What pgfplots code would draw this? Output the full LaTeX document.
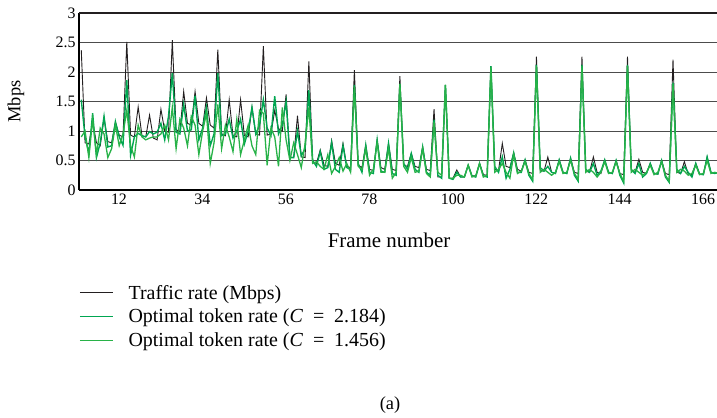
\documentclass[border=0pt]{standalone}
\usepackage{fontspec}
\setmainfont{Liberation Serif}
\usepackage{pgfplots}
\usepackage{pgfplotstable}
\pgfplotsset{compat=1.18}

\definecolor{traffic}{RGB}{35,31,32}
\definecolor{greenA}{RGB}{0,166,81}
\definecolor{greenB}{RGB}{40,178,72}

% frame, traffic rate, token rate C=2.184, token rate C=1.456
\pgfplotstableread{
f T A B
1 2.37 1.53 0.90
2 0.80 0.90 1.00
3 0.78 0.62 0.55
4 1.15 1.30 1.20
5 0.80 0.55 0.60
6 0.75 0.80 1.05
7 1.22 1.25 0.95
8 0.82 0.73 0.55
9 0.80 0.75 0.70
10 1.15 1.16 1.10
11 0.93 0.90 0.75
12 0.90 0.76 0.95
13 2.51 1.86 1.35
14 0.93 0.59 0.75
15 0.90 0.90 0.56
16 1.41 0.96 1.10
17 0.92 0.92 0.90
18 0.90 0.90 0.85
19 1.27 0.99 0.88
20 0.88 0.95 0.90
21 0.85 0.98 0.90
22 1.37 1.13 0.95
23 1.00 0.85 1.10
24 0.98 1.25 0.85
25 2.54 1.98 1.40
26 1.02 0.98 0.70
27 0.99 0.95 1.20
28 1.67 1.45 1.05
29 1.13 1.00 0.75
30 1.10 1.02 1.25
31 1.67 1.60 1.10
32 1.13 0.85 0.60
33 1.08 1.05 1.00
34 1.56 1.40 1.30
35 1.10 0.75 0.45
36 1.05 0.95 0.80
37 2.38 1.98 1.45
38 0.95 0.92 0.70
39 0.92 0.95 1.10
40 1.53 1.20 0.90
41 0.92 0.88 0.65
42 0.90 1.00 1.20
43 1.53 1.20 0.60
44 0.92 0.78 0.85
45 0.90 1.00 1.10
46 1.40 1.40 0.75
47 0.95 0.95 0.60
48 0.93 1.10 1.35
49 2.44 1.53 1.30
50 0.93 1.05 0.42
51 0.95 0.92 1.05
52 1.35 1.59 0.90
53 1.04 0.95 0.40
54 1.00 1.10 1.40
55 1.62 1.50 0.85
56 0.56 0.55 0.50
57 0.55 0.55 0.80
58 1.26 1.00 0.60
59 0.56 0.58 0.38
60 0.55 0.70 0.78
61 2.18 1.69 1.40
62 0.48 0.50 0.45
63 0.45 0.40 0.48
64 0.68 0.65 0.40
65 0.42 0.35 0.35
66 0.40 0.38 0.60
67 0.84 0.80 0.28
68 0.45 0.35 0.40
69 0.42 0.30 0.55
70 0.79 0.75 0.32
71 0.40 0.38 0.45
72 0.38 0.35 0.30
73 2.03 1.78 1.75
74 0.42 0.45 0.40
75 0.38 0.30 0.35
76 0.76 0.76 0.70
77 0.35 0.30 0.25
78 0.33 0.28 0.35
79 0.85 0.85 0.80
80 0.38 0.32 0.30
81 0.35 0.30 0.30
82 0.79 0.79 0.70
83 0.35 0.28 0.20
84 0.33 0.25 0.30
85 1.93 1.80 1.80
86 0.42 0.45 0.40
87 0.40 0.35 0.30
88 0.62 0.62 0.55
89 0.40 0.35 0.30
90 0.38 0.30 0.32
91 0.73 0.73 0.70
92 0.35 0.30 0.28
93 0.33 0.25 0.22
94 1.37 1.19 1.15
95 0.22 0.25 0.30
96 0.22 0.20 0.25
97 1.78 1.78 1.78
98 0.20 0.20 0.20
99 0.20 0.18 0.20
100 0.34 0.30 0.25
101 0.22 0.22 0.25
102 0.22 0.22 0.22
103 0.42 0.42 0.42
104 0.24 0.24 0.22
105 0.24 0.22 0.24
106 0.45 0.45 0.45
107 0.26 0.24 0.22
108 0.25 0.22 0.25
109 2.10 2.10 2.08
110 0.35 0.40 0.30
111 0.33 0.30 0.35
112 0.79 0.56 0.45
113 0.40 0.20 0.30
114 0.38 0.35 0.20
115 0.63 0.63 0.60
116 0.35 0.30 0.28
117 0.32 0.30 0.32
118 0.51 0.51 0.48
119 0.30 0.25 0.28
120 0.28 0.15 0.18
121 2.26 2.12 2.10
122 0.33 0.38 0.30
123 0.32 0.32 0.35
124 0.56 0.40 0.30
125 0.30 0.30 0.25
126 0.28 0.28 0.30
127 0.51 0.51 0.48
128 0.30 0.30 0.28
129 0.28 0.28 0.30
130 0.54 0.54 0.50
131 0.30 0.25 0.28
132 0.28 0.15 0.18
133 2.26 2.12 2.10
134 0.32 0.35 0.30
135 0.30 0.30 0.35
136 0.56 0.45 0.30
137 0.30 0.25 0.22
138 0.28 0.32 0.30
139 0.51 0.51 0.48
140 0.30 0.30 0.28
141 0.28 0.28 0.30
142 0.50 0.50 0.48
143 0.28 0.25 0.28
144 0.26 0.12 0.15
145 2.26 2.12 2.10
146 0.33 0.35 0.30
147 0.30 0.28 0.35
148 0.52 0.45 0.30
149 0.30 0.22 0.25
150 0.28 0.28 0.30
151 0.45 0.45 0.42
152 0.28 0.28 0.26
153 0.27 0.27 0.30
154 0.50 0.50 0.48
155 0.28 0.22 0.25
156 0.26 0.13 0.15
157 2.21 1.82 1.80
158 0.30 0.35 0.30
159 0.28 0.28 0.35
160 0.48 0.40 0.32
161 0.27 0.30 0.25
162 0.26 0.22 0.28
163 0.45 0.45 0.42
164 0.27 0.27 0.26
165 0.26 0.26 0.28
166 0.56 0.56 0.50
167 0.30 0.30 0.28
168 0.28 0.28 0.30
169 0.30 0.30 0.28
}\rates

\begin{document}
\begin{tikzpicture}
\begin{axis}[
  name=ax,
  scale only axis,
  width=638bp, height=177bp,
  xmin=0.4, xmax=168.6,
  ymin=0, ymax=3,
  xtick={12,34,...,166},
  ytick={0,0.5,...,3},
  extra y ticks={3},
  extra y tick labels={},
  extra y tick style={major grid style={traffic, line width=1.2pt}},
  ymajorgrids,
  major grid style={black!70, line width=0.8pt},
  major tick length=0pt,
  axis x line*=bottom,
  axis y line*=left,
  axis line style={-, black, line width=1.2pt},
  tick label style={font=\fontsize{16}{16}\selectfont},
  x tick label style={xshift=-4bp},
  /pgf/number format/assume math mode=true,
  xlabel={Frame number},
  ylabel={Mbps},
  x label style={font=\fontsize{21}{21}\selectfont,
    at={(axis description cs:0.486,-0.285)}, anchor=center},
  y label style={font=\fontsize{18.5}{18.5}\selectfont,
    at={(axis description cs:-0.099,0.5)}, anchor=center},
  legend style={
    at={(axis description cs:0.0,-0.525)}, anchor=north west,
    draw=none, fill=none, inner sep=0pt,
    font=\fontsize{20}{20}\selectfont,
    row sep=4.5bp,
    nodes={inner xsep=7bp},
  },
  legend cell align=left,
  legend image code/.code={\draw[#1] (0bp,0bp) -- (33bp,0bp); \path (41bp,0bp);},
  clip=true,
]
\addplot[traffic, line width=0.9bp] table[x=f, y=T] {\rates};
\addplot[greenA, line width=1.4bp] table[x=f, y=A] {\rates};
\addplot[greenB, line width=1.3bp] table[x=f, y=B] {\rates};
\legend{Traffic rate (Mbps),
  Optimal token rate (\textit{C}\enspace=\enspace2.184),
  Optimal token rate (\textit{C}\enspace=\enspace1.456)}
\end{axis}
\node[font=\fontsize{18.5}{18.5}\selectfont] at ([xshift=311bp,yshift=-215bp]ax.south west) {(a)};
\pgfresetboundingbox
\path ([xshift=-79bp,yshift=-228bp]ax.south west) rectangle ([yshift=13bp]ax.north east);
\end{tikzpicture}
\end{document}
